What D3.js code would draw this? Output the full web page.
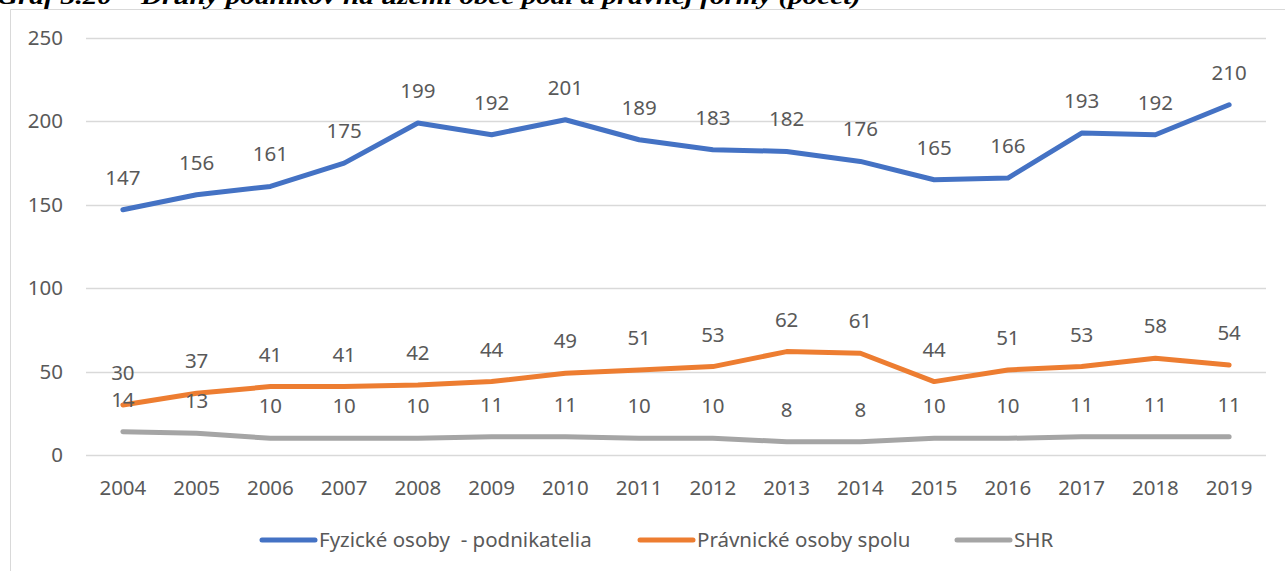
<!DOCTYPE html>
<html>
<head>
<meta charset="utf-8">
<script src="https://cdn.jsdelivr.net/npm/d3@7"></script>
<style>
    html, body { margin: 0; padding: 0; background: #fff; }
    svg { display: block; }
    .tick-label, .data-label, .legend-label { font-family: "Noto Sans", sans-serif; fill: #595959; }
</style>
</head>
<body>
<div id="chart"></div>
<script>
'use strict';

var years     = ['2004', '2005', '2006', '2007', '2008', '2009', '2010', '2011', '2012', '2013', '2014', '2015', '2016', '2017', '2018', '2019'];
var fyzicke   = [147, 156, 161, 175, 199, 192, 201, 189, 183, 182, 176, 165, 166, 193, 192, 210];
var pravnicke = [30, 37, 41, 41, 42, 44, 49, 51, 53, 62, 61, 44, 51, 53, 58, 54];
var shr       = [14, 13, 10, 10, 10, 11, 11, 10, 10, 8, 8, 10, 10, 11, 11, 11];
var yTicks    = [0, 50, 100, 150, 200, 250];
var seriesNames  = ['Fyzické osoby  - podnikatelia', 'Právnické osoby spolu', 'SHR'];
var seriesColors = ['#4472C4', '#ED7D31', '#A5A5A5'];
var title     = 'Graf 3.20 – Druhy podnikov na území obce podľa právnej formy (počet)';

var width    = 1285,
    height   = 571,
    fontSize = '20.5px',
    plot     = {left: 86, right: 1266, top: 38, bottom: 455};

var svg = d3.select('#chart').append('svg')
    .attr('width', width)
    .attr('height', height);

// Caption above the chart, cut off by the top edge like in the source scan.
svg.append('text')
    .attr('x', -3)
    .attr('y', 4)
    .attr('textLength', 864)
    .attr('lengthAdjust', 'spacingAndGlyphs')
    .style('font-family', '"Liberation Serif", serif')
    .style('font-weight', 'bold')
    .style('font-style', 'italic')
    .style('font-size', '24px')
    .style('fill', '#000')
    .text(title);

// Chart frame (left and top edges are visible).
svg.append('path')
    .attr('d', 'M10.5,' + height + 'V9.5H' + width)
    .attr('fill', 'none')
    .attr('stroke', '#D9D9D9')
    .attr('stroke-width', 1);

var x = d3.scaleBand()
    .domain(years)
    .range([plot.left, plot.right]);

var y = d3.scaleLinear()
    .domain([0, 250])
    .range([plot.bottom, plot.top]);

// Grid lines.
svg.append('g')
    .selectAll('line')
    .data(yTicks)
    .enter().append('line')
    .attr('x1', plot.left)
    .attr('x2', plot.right)
    .attr('y1', function (d) { return Math.round(y(d)) + 0.5; })
    .attr('y2', function (d) { return Math.round(y(d)) + 0.5; })
    .attr('stroke', '#D9D9D9')
    .attr('stroke-width', 1.5);

// Y axis labels.
svg.append('g')
    .selectAll('text')
    .data(yTicks)
    .enter().append('text')
    .attr('class', 'tick-label')
    .attr('x', 63)
    .attr('y', function (d) { return y(d) + 7; })
    .attr('text-anchor', 'end')
    .style('font-size', fontSize)
    .text(function (d) { return d; });

// X axis labels.
svg.append('g')
    .selectAll('text')
    .data(years)
    .enter().append('text')
    .attr('class', 'tick-label')
    .attr('x', function (d) { return x(d) + x.bandwidth() / 2; })
    .attr('y', 495)
    .attr('text-anchor', 'middle')
    .style('font-size', fontSize)
    .text(function (d) { return d; });

var series = [fyzicke, pravnicke, shr];

var line = d3.line()
    .x(function (d, i) { return x(years[i]) + x.bandwidth() / 2; })
    .y(function (d) { return y(d); });

// Draw grey first so blue ends up on top.
[2, 1, 0].forEach(function (s) {
    svg.append('path')
        .datum(series[s])
        .attr('d', line)
        .attr('fill', 'none')
        .attr('stroke', seriesColors[s])
        .attr('stroke-width', 5)
        .attr('stroke-linejoin', 'round')
        .attr('stroke-linecap', 'round');
});

// Data labels above each point.
series.forEach(function (values) {
    svg.append('g')
        .selectAll('text')
        .data(values)
        .enter().append('text')
        .attr('class', 'data-label')
        .attr('x', function (d, i) { return x(years[i]) + x.bandwidth() / 2; })
        .attr('y', function (d) { return y(d) - 25; })
        .attr('text-anchor', 'middle')
        .style('font-size', fontSize)
        .text(function (d) { return d; });
});

// Legend.
var legendItems = [
    {x: 262, idx: 0},
    {x: 640, idx: 1},
    {x: 957, idx: 2}
];

var legend = svg.append('g');

legendItems.forEach(function (item) {
    legend.append('line')
        .attr('x1', item.x)
        .attr('x2', item.x + 53)
        .attr('y1', 540)
        .attr('y2', 540)
        .attr('stroke', seriesColors[item.idx])
        .attr('stroke-width', 5)
        .attr('stroke-linecap', 'round');

    legend.append('text')
        .attr('class', 'legend-label')
        .attr('x', item.x + 57)
        .attr('y', 547)
        .style('font-size', fontSize)
        .attr('xml:space', 'preserve')
        .text(seriesNames[item.idx]);
});
</script>
</body>
</html>
